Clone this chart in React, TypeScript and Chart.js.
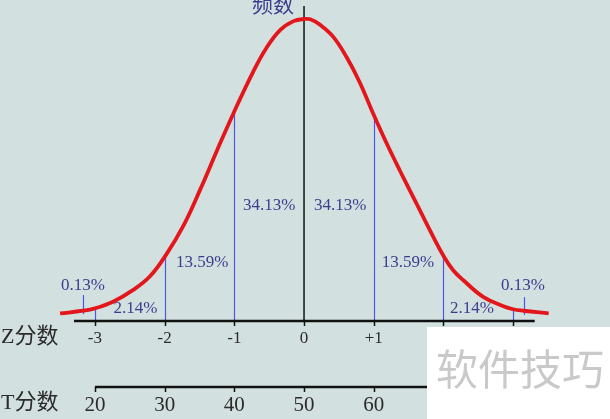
import React, { useEffect, useRef } from "react";
import { Chart, registerables } from "chart.js";

Chart.register(...registerables);

// Curve: z-score position and relative frequency (peak = 100)
const curveZ = [-3.5, -3.17, -3.0, -2.74, -2.45, -2.21, -1.98, -1.73, -1.49, -1.25, -1.01, -0.73, -0.54, -0.34, -0.15, 0, 0.09, 0.23, 0.42, 0.61, 0.8, 0.99, 1.19, 1.38, 1.62, 1.86, 2.0, 2.14, 2.29, 2.57, 2.86, 3.0, 3.15, 3.51];
const curveFreq = [2.5, 3.4, 4.2, 6.4, 10.3, 14.8, 21.9, 31.6, 43.5, 56.4, 68.9, 82.5, 90.4, 96.4, 99.3, 100, 99.9, 98.1, 94.1, 87.4, 79.0, 68.8, 58.6, 49.6, 38.6, 27.6, 21.6, 16.8, 13.4, 8.0, 4.9, 3.9, 3.4, 2.5];

const zTicks = [-3, -2, -1, 0, 1, 2, 3];
const zTickLabels = ["-3", "-2", "-1", "0", "+1", "+2", "+3"];
const tTicks = [20, 30, 40, 50, 60, 70, 80];
const tTickLabels = ["20", "30", "40", "50", "60", "70", "80"];

const bandLabels = ["0.13%", "2.14%", "13.59%", "34.13%", "34.13%", "13.59%", "2.14%", "0.13%"];

const dividerZ = [-3.17, -3, -2, -1, 1, 2, 3, 3.16];
const dividerTop = [8.6, 4.2, 21.9, 68.9, 68.8, 21.0, 3.9, 7.9];
const dividerBottom = [2.3, 0, 0, 0, 0, 0, 0, 2.0];

const axisTitleY = "频数";
const zTitle = "Z分数";
const tTitle = "T分数";
const watermark = "软件技巧";

// layout (positions in data units of the chart's scales)
const bandLabelPos = [
  { z: -3.17, v: 11.9 },
  { z: -2.42, v: 4.0 },
  { z: -1.46, v: 19.2 },
  { z: -0.5, v: 38.1 },
  { z: 0.52, v: 38.1 },
  { z: 1.49, v: 19.2 },
  { z: 2.41, v: 4.0 },
  { z: 3.14, v: 11.6 },
];

const SERIF = '"Liberation Serif", "DejaVu Serif", "Noto Sans CJK SC", serif';

const overlay = {
  id: "overlay",
  beforeDraw(chart: any) {
    const { ctx, width, height } = chart;
    ctx.save();
    ctx.fillStyle = "#d3e0e0";
    ctx.fillRect(0, 0, width, height);
    ctx.restore();
  },
  beforeDatasetsDraw(chart: any) {
    const { ctx } = chart;
    const xs = chart.scales.x;
    const xt = chart.scales.xT;
    const ys = chart.scales.y;
    ctx.save();

    // dividers
    ctx.strokeStyle = "#4c57e6";
    ctx.lineWidth = 1.2;
    dividerZ.forEach((z, i) => {
      const px = Math.round(xs.getPixelForValue(z)) + 0.5;
      ctx.beginPath();
      ctx.moveTo(px, ys.getPixelForValue(dividerBottom[i]));
      ctx.lineTo(px, ys.getPixelForValue(dividerTop[i]));
      ctx.stroke();
    });

    // vertical frequency axis
    const x0 = xs.getPixelForValue(0);
    const y0 = ys.getPixelForValue(0);
    ctx.strokeStyle = "#111";
    ctx.lineWidth = 1.5;
    ctx.beginPath();
    ctx.moveTo(x0, y0);
    ctx.lineTo(x0, ys.getPixelForValue(104.3));
    ctx.stroke();

    // Z axis
    ctx.lineWidth = 2.5;
    ctx.beginPath();
    ctx.moveTo(xs.getPixelForValue(-3.3), y0);
    ctx.lineTo(xs.getPixelForValue(3.31), y0);
    ctx.stroke();
    ctx.lineWidth = 1.5;
    zTicks.forEach((z) => {
      const px = Math.round(xs.getPixelForValue(z)) + 0.5;
      ctx.beginPath();
      ctx.moveTo(px, y0);
      ctx.lineTo(px, y0 + 5);
      ctx.stroke();
    });
    ctx.fillStyle = "#2b2b2b";
    ctx.font = "17px " + SERIF;
    ctx.textAlign = "center";
    ctx.textBaseline = "middle";
    zTicks.forEach((z, i) => {
      ctx.fillText(zTickLabels[i], xs.getPixelForValue(z), y0 + 18);
    });

    // T axis
    const yT = y0 + 66;
    ctx.lineWidth = 2.5;
    ctx.beginPath();
    ctx.moveTo(xt.getPixelForValue(tTicks[0]), yT);
    ctx.lineTo(xt.getPixelForValue(tTicks[tTicks.length - 1]), yT);
    ctx.stroke();
    ctx.lineWidth = 1.5;
    tTicks.forEach((t) => {
      const px = Math.round(xt.getPixelForValue(t)) + 0.5;
      ctx.beginPath();
      ctx.moveTo(px, yT);
      ctx.lineTo(px, yT + 5);
      ctx.stroke();
    });
    ctx.font = "21px " + SERIF;
    tTicks.forEach((t, i) => {
      ctx.fillText(tTickLabels[i], xt.getPixelForValue(t), yT + 18);
    });

    // row titles
    ctx.textAlign = "left";
    ctx.font = "22px " + SERIF;
    ctx.fillText(zTitle, 1, y0 + 16);
    ctx.fillText(tTitle, 1, yT + 16);

    // band labels
    ctx.fillStyle = "#3d3d8e";
    ctx.font = "17px " + SERIF;
    ctx.textAlign = "center";
    bandLabels.forEach((s, i) => {
      ctx.fillText(s, xs.getPixelForValue(bandLabelPos[i].z), ys.getPixelForValue(bandLabelPos[i].v));
    });

    // y title
    ctx.font = "21px " + SERIF;
    ctx.textAlign = "right";
    ctx.fillText(axisTitleY, x0 - 10, 6);

    ctx.restore();
  },
  afterDraw(chart: any) {
    const { ctx, width, height } = chart;
    ctx.save();
    ctx.fillStyle = "#ffffff";
    ctx.fillRect(427, 327, width - 427, height - 327);
    ctx.fillStyle = "#c9c9c9";
    ctx.font = '42px "Noto Sans CJK SC", sans-serif';
    ctx.textAlign = "center";
    ctx.textBaseline = "middle";
    ctx.fillText(watermark, 520, 369);
    ctx.restore();
  },
};

export default function App() {
  const ref = useRef<HTMLCanvasElement>(null);
  useEffect(() => {
    if (!ref.current) return;
    const chart = new Chart(ref.current, {
      type: "line",
      data: {
        datasets: [
          {
            data: curveZ.map((z, i) => ({ x: z, y: curveFreq[i] })),
            borderColor: "#e3171b",
            borderWidth: 3.8,
            pointRadius: 0,
            tension: 0.4,
            fill: false,
          },
        ],
      },
      options: {
        animation: false,
        responsive: false,
        devicePixelRatio: 1,
        layout: { padding: 0 },
        plugins: { legend: { display: false }, tooltip: { enabled: false } },
        events: [],
        scales: {
          x: { type: "linear", min: -4.362, max: 4.39, display: false },
          xT: { type: "linear", axis: "x", min: 6.38, max: 93.9, display: false },
          y: { type: "linear", min: -32.45, max: 106.3, display: false },
        },
      },
      plugins: [overlay],
    } as any);
    return () => chart.destroy();
  }, []);
  return (
    <div style={{ position: "absolute", left: 0, top: 0, width: 610, height: 419 }}>
      <canvas ref={ref} width={610} height={419} style={{ display: "block" }} />
    </div>
  );
}
